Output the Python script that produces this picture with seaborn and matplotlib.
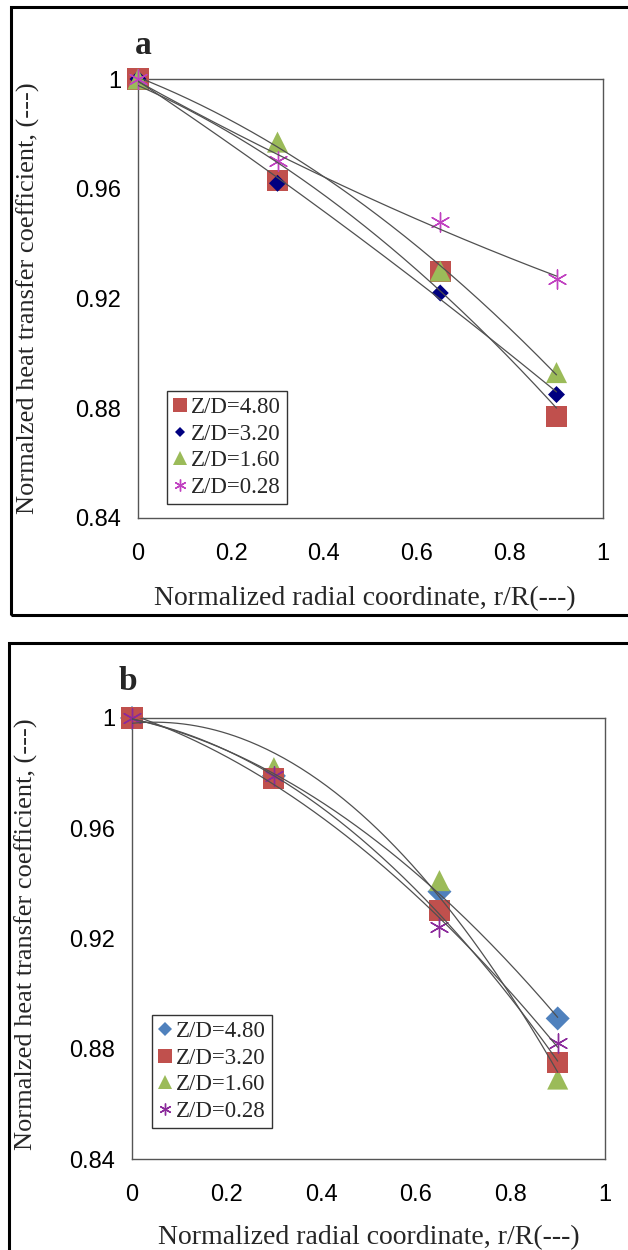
import numpy as np
import pandas as pd
import matplotlib
matplotlib.use("Agg")
import matplotlib.pyplot as plt
import seaborn as sns
from matplotlib.patches import Rectangle
from matplotlib.lines import Line2D

# ---------------- data ----------------
r = [0.0, 0.3, 0.65, 0.9]
labels = ["Z/D=4.80", "Z/D=3.20", "Z/D=1.60", "Z/D=0.28"]

a_zd480 = [1.000, 0.963, 0.930, 0.877]
a_zd320 = [1.000, 0.962, 0.922, 0.885]
a_zd160 = [1.000, 0.977, 0.930, 0.893]
a_zd028 = [1.000, 0.970, 0.948, 0.927]

b_zd480 = [1.000, 0.979, 0.937, 0.891]
b_zd320 = [1.000, 0.978, 0.930, 0.875]
b_zd160 = [1.000, 0.982, 0.941, 0.869]
b_zd028 = [1.000, 0.979, 0.924, 0.882]

xtick_vals = [0, 0.2, 0.4, 0.6, 0.8, 1.0]
xtick_labels = ["0", "0.2", "0.4", "0.6", "0.8", "1"]
ytick_vals = [0.84, 0.88, 0.92, 0.96, 1.0]
ytick_labels = ["0.84", "0.88", "0.92", "0.96", "1"]

xlabel = "Normalized radial coordinate, r/R(---)"
ylabel = "Normalzed heat transfer coefficient, (---)"

# ---------------- styles ----------------
RED = "#C0504D"
NAVY = "#000080"
GREEN = "#9BBB59"
BLUE = "#4F81BD"
MAG_A = "#C040C0"
MAG_B = "#8B2A9B"
STAR = (6, 2, 0)
SERIF = ["Liberation Serif", "DejaVu Serif"]

style_a = {
    "Z/D=4.80": dict(marker="s", color=RED, s=230, lw=0),
    "Z/D=3.20": dict(marker="D", color=NAVY, s=75, lw=0),
    "Z/D=1.60": dict(marker="^", color=GREEN, s=230, lw=0),
    "Z/D=0.28": dict(marker=STAR, color=MAG_A, s=190, lw=1.0),
}
style_b = {
    "Z/D=4.80": dict(marker="D", color=BLUE, s=150, lw=0),
    "Z/D=3.20": dict(marker="s", color=RED, s=230, lw=0),
    "Z/D=1.60": dict(marker="^", color=GREEN, s=230, lw=0),
    "Z/D=0.28": dict(marker=STAR, color=MAG_B, s=190, lw=1.0),
}

sns.set_theme(style="white")
plt.rcParams["font.family"] = ["Liberation Sans", "DejaVu Sans"]

W, H = 628, 1250
fig = plt.figure(figsize=(W / 100, H / 100), dpi=100)


def px_axes(left, top, right, bottom):
    return fig.add_axes([left / W, 1 - bottom / H, (right - left) / W, (bottom - top) / H])


def draw_panel(ax, series, styles, draw_order, letter, letter_xy, ylab_xy, xlab_xy, legend_box):
    xfine = np.linspace(0, 0.9, 200)
    # markers
    for name in draw_order:
        st = styles[name]
        sns.scatterplot(x=r, y=series[name], ax=ax, marker=st["marker"], s=st["s"],
                        color=st["color"], edgecolor=st["color"] if st["lw"] > 0 else "none",
                        linewidth=st["lw"], zorder=3, legend=False, clip_on=False)
    # trend lines (2nd order polynomial fit)
    for name in labels:
        coef = np.polyfit(r, series[name], 2)
        df = pd.DataFrame({"x": xfine, "y": np.polyval(coef, xfine)})
        sns.lineplot(data=df, x="x", y="y", ax=ax, color="#505050", lw=0.9, zorder=4)

    ax.set_xlim(0, 1)
    ax.set_ylim(0.84, 1.0)
    ax.set_xticks(xtick_vals)
    ax.set_xticklabels(xtick_labels)
    ax.set_yticks(ytick_vals)
    ax.set_yticklabels(ytick_labels)
    ax.tick_params(axis="both", direction="out", length=6, width=1, color="#444444",
                   labelsize=17, colors="black", pad=8)
    ax.tick_params(axis="x", pad=12)
    ax.tick_params(axis="y", pad=6)
    for sp in ax.spines.values():
        sp.set_color("#555555")
        sp.set_linewidth(1.0)
    ax.set_xlabel(xlabel, family=SERIF, fontsize=20)
    ax.set_ylabel(ylabel, family=SERIF, fontsize=19)
    ax.xaxis.set_label_coords(*xlab_xy)
    ax.yaxis.set_label_coords(*ylab_xy)
    ax.text(letter_xy[0], letter_xy[1], letter, transform=ax.transAxes,
            family=SERIF, fontweight="bold", fontsize=24, ha="center", va="center")

    handles = []
    for name in labels:
        st = styles[name]
        ms = np.sqrt(st["s"]) * 0.62
        handles.append(Line2D([], [], ls="none", marker=st["marker"], markersize=ms,
                              color=st["color"], markeredgewidth=st["lw"] if st["lw"] > 0 else 0,
                              markeredgecolor=st["color"]))
    leg = ax.legend(handles, labels, loc="lower left", bbox_to_anchor=legend_box,
                    prop={"family": SERIF, "size": 16.5},
                    frameon=True, fancybox=False, edgecolor="#333333", framealpha=1,
                    handlelength=0.6, handletextpad=0.2, borderpad=0.25,
                    labelspacing=0.25, borderaxespad=0)
    leg.get_frame().set_linewidth(1.0)


# panel a
axA = px_axes(138, 79, 603, 518)
series_a = {"Z/D=4.80": a_zd480, "Z/D=3.20": a_zd320, "Z/D=1.60": a_zd160, "Z/D=0.28": a_zd028}
draw_panel(axA, series_a, style_a,
           ["Z/D=4.80", "Z/D=3.20", "Z/D=1.60", "Z/D=0.28"],
           "a", ((143 - 138) / 465, (518 - 45) / 439),
           (-0.211, 0.5), (0.488, -0.155),
           ((167 - 138) / 465, (518 - 504) / 439))

# panel b
axB = px_axes(132, 718, 605, 1159)
series_b = {"Z/D=4.80": b_zd480, "Z/D=3.20": b_zd320, "Z/D=1.60": b_zd160, "Z/D=0.28": b_zd028}
draw_panel(axB, series_b, style_b,
           ["Z/D=4.80", "Z/D=1.60", "Z/D=3.20", "Z/D=0.28"],
           "b", ((128 - 132) / 473, (1159 - 682) / 441),
           (-0.198, 0.51), (0.50, -0.15),
           ((152 - 132) / 473, (1159 - 1128) / 441))

# outer frames
fig.patches.append(Rectangle((11 / W, 1 - 615 / H), (640 - 11) / W, (615 - 7) / H,
                             transform=fig.transFigure, fill=False, lw=2.2, ec="black"))
fig.patches.append(Rectangle((9 / W, 1 - 1270 / H), (640 - 9) / W, (1270 - 643) / H,
                             transform=fig.transFigure, fill=False, lw=2.2, ec="black"))

fig.savefig("out.png", dpi=100, facecolor="white")
